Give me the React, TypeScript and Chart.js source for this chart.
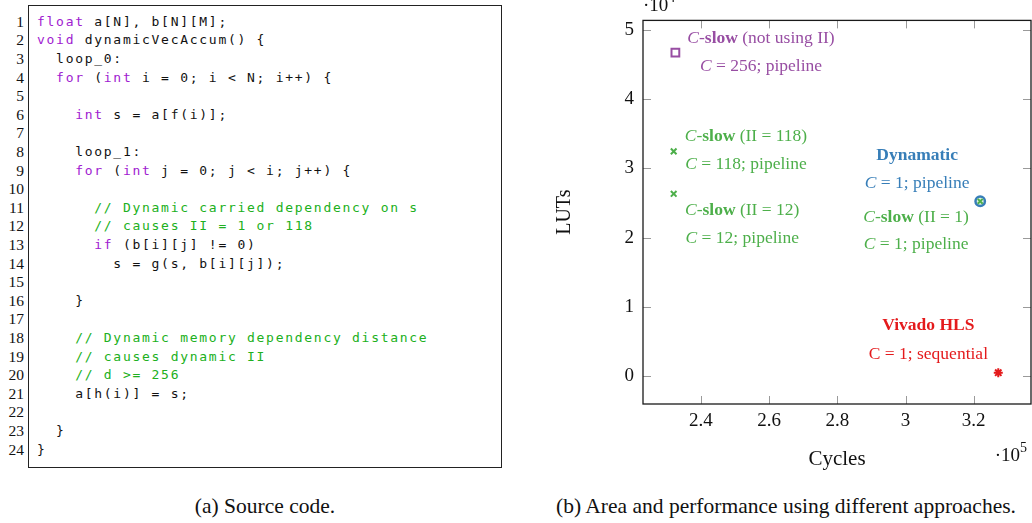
import React, { useEffect, useRef } from "react";
import { Chart, registerables } from "chart.js";

Chart.register(...registerables);

// ---------- Data ----------
const seriesNames = [
  "C-slow (not using II)",
  "C-slow (II = 118)",
  "C-slow (II = 12)",
  "C-slow (II = 1)",
  "Dynamatic",
  "Vivado HLS",
];
const cycles = [232500, 232000, 232000, 321900, 321900, 327200];
const luts = [46760, 32470, 26330, 25240, 25240, 430];

const xTickValues = [240000, 260000, 280000, 300000, 320000];
const xTickLabels = ["2.4", "2.6", "2.8", "3", "3.2"];
const yTickValues = [0, 10000, 20000, 30000, 40000, 50000];
const yTickLabels = ["0", "1", "2", "3", "4", "5"];

const codeLines = [
  "float a[N], b[N][M];",
  "void dynamicVecAccum() {",
  "  loop_0:",
  "  for (int i = 0; i < N; i++) {",
  "",
  "    int s = a[f(i)];",
  "",
  "    loop_1:",
  "    for (int j = 0; j < i; j++) {",
  "",
  "      // Dynamic carried dependency on s",
  "      // causes II = 1 or 118",
  "      if (b[i][j] != 0)",
  "        s = g(s, b[i][j]);",
  "",
  "    }",
  "",
  "    // Dynamic memory dependency distance",
  "    // causes dynamic II",
  "    // d >= 256",
  "    a[h(i)] = s;",
  "",
  "  }",
  "}",
];

const SET1 = {
  red: "#e41a1c",
  blue: "#377eb8",
  green: "#4daf4a",
  purple: "#984ea3",
};

type Seg = { t: string; s?: "i" | "b" };
type Note = { x: number; y: number; color: string; segs: Seg[] };

const notes: Note[] = [
  { x: 257600, y: 48860, color: SET1.purple, segs: [{ t: "C", s: "i" }, { t: "-" }, { t: "slow", s: "b" }, { t: " (not using II)" }] },
  { x: 257600, y: 44710, color: SET1.purple, segs: [{ t: "C", s: "i" }, { t: " = 256; pipeline" }] },
  { x: 253200, y: 34570, color: SET1.green, segs: [{ t: "C", s: "i" }, { t: "-" }, { t: "slow", s: "b" }, { t: " (II = 118)" }] },
  { x: 253200, y: 30570, color: SET1.green, segs: [{ t: "C", s: "i" }, { t: " = 118; pipeline" }] },
  { x: 252100, y: 23860, color: SET1.green, segs: [{ t: "C", s: "i" }, { t: "-" }, { t: "slow", s: "b" }, { t: " (II = 12)" }] },
  { x: 252100, y: 19860, color: SET1.green, segs: [{ t: "C", s: "i" }, { t: " = 12; pipeline" }] },
  { x: 303400, y: 31860, color: SET1.blue, segs: [{ t: "Dynamatic", s: "b" }] },
  { x: 303400, y: 27860, color: SET1.blue, segs: [{ t: "C", s: "i" }, { t: " = 1; pipeline" }] },
  { x: 303100, y: 22860, color: SET1.green, segs: [{ t: "C", s: "i" }, { t: "-" }, { t: "slow", s: "b" }, { t: " (II = 1)" }] },
  { x: 303100, y: 19000, color: SET1.green, segs: [{ t: "C", s: "i" }, { t: " = 1; pipeline" }] },
  { x: 306700, y: 7290, color: SET1.red, segs: [{ t: "Vivado HLS", s: "b" }] },
  { x: 306700, y: 3140, color: SET1.red, segs: [{ t: "C = 1; sequential" }] },
];

const SERIF = '"Liberation Serif", "DejaVu Serif", serif';
const MONO = '"DejaVu Sans Mono", monospace';
const NOTE_SIZE = 17.5;

function segFont(s?: "i" | "b") {
  if (s === "i") return `italic ${NOTE_SIZE}px ${SERIF}`;
  if (s === "b") return `bold ${NOTE_SIZE}px ${SERIF}`;
  return `${NOTE_SIZE}px ${SERIF}`;
}

const framePlugin = {
  id: "frameTicks",
  beforeDatasetsDraw(chart: any) {
    const { ctx, chartArea: a, scales } = chart;
    const L = 8;
    ctx.save();
    ctx.strokeStyle = "#9a9a9a";
    ctx.lineWidth = 1;
    ctx.beginPath();
    xTickValues.forEach((v) => {
      const px = Math.round(scales.x.getPixelForValue(v)) + 0.5;
      ctx.moveTo(px, a.bottom);
      ctx.lineTo(px, a.bottom - L);
      ctx.moveTo(px, a.top);
      ctx.lineTo(px, a.top + L);
    });
    yTickValues.forEach((v) => {
      const py = Math.round(scales.y.getPixelForValue(v)) + 0.5;
      ctx.moveTo(a.left, py);
      ctx.lineTo(a.left + L, py);
      ctx.moveTo(a.right, py);
      ctx.lineTo(a.right - L, py);
    });
    ctx.stroke();
    ctx.strokeStyle = "#1a1a1a";
    ctx.lineWidth = 1.3;
    ctx.strokeRect(a.left, a.top, a.right - a.left, a.bottom - a.top);
    ctx.restore();
  },
  afterDatasetsDraw(chart: any) {
    const { ctx, scales, chartArea: a } = chart;
    ctx.save();
    ctx.textBaseline = "middle";
    ctx.textAlign = "left";
    notes.forEach((n) => {
      const cx = scales.x.getPixelForValue(n.x);
      const cy = scales.y.getPixelForValue(n.y);
      let w = 0;
      n.segs.forEach((s) => {
        ctx.font = segFont(s.s);
        w += ctx.measureText(s.t).width;
      });
      let x = cx - w / 2;
      ctx.fillStyle = n.color;
      n.segs.forEach((s) => {
        ctx.font = segFont(s.s);
        ctx.fillText(s.t, x, cy);
        x += ctx.measureText(s.t).width;
      });
    });
    // exponent labels
    ctx.fillStyle = "#111";
    ctx.textBaseline = "alphabetic";
    ctx.font = `19px ${SERIF}`;
    const dot = "·10";
    const xw = ctx.measureText(dot).width;
    ctx.fillText(dot, a.right - 11 - xw, a.bottom + 57);
    ctx.font = `14px ${SERIF}`;
    ctx.fillText("5", a.right - 11, a.bottom + 48);
    ctx.font = `19px ${SERIF}`;
    ctx.fillText(dot, a.left, a.top - 9);
    const yw = ctx.measureText(dot).width;
    ctx.font = `14px ${SERIF}`;
    ctx.fillText("4", a.left + yw, a.top - 18);
    ctx.restore();
  },
};

function ScatterChart() {
  const ref = useRef<HTMLCanvasElement | null>(null);
  useEffect(() => {
    if (!ref.current) return;
    const pts = (i: number) => [{ x: cycles[i], y: luts[i] }];
    const chart = new Chart(ref.current, {
      type: "scatter",
      data: {
        datasets: [
          {
            label: seriesNames[0],
            data: pts(0),
            pointStyle: "rect",
            pointRadius: 5.5,
            borderColor: SET1.purple,
            backgroundColor: "rgba(255,255,255,0)",
            borderWidth: 2,
          },
          {
            label: seriesNames[1],
            data: pts(1),
            pointStyle: "crossRot",
            pointRadius: 4,
            borderColor: SET1.green,
            borderWidth: 2,
          },
          {
            label: seriesNames[2],
            data: pts(2),
            pointStyle: "crossRot",
            pointRadius: 4,
            borderColor: SET1.green,
            borderWidth: 2,
          },
          {
            label: seriesNames[3],
            data: pts(3),
            pointStyle: "crossRot",
            pointRadius: 3.5,
            borderColor: SET1.green,
            borderWidth: 2,
          },
          {
            label: seriesNames[4],
            data: pts(4),
            pointStyle: "circle",
            pointRadius: 4.7,
            borderColor: SET1.blue,
            backgroundColor: "rgba(200,230,200,0.6)",
            borderWidth: 2.5,
          },
          {
            label: seriesNames[5],
            data: pts(5),
            pointStyle: "star",
            pointRadius: 4.5,
            borderColor: SET1.red,
            borderWidth: 2,
          },
        ],
      },
      options: {
        responsive: false,
        animation: false,
        events: [],
        layout: { autoPadding: false, padding: { top: 15, right: 1, left: 0, bottom: 0 } },
        plugins: { legend: { display: false }, tooltip: { enabled: false } },
        scales: {
          x: {
            type: "linear",
            min: 223000,
            max: 336800,
            grid: { display: false, drawTicks: false },
            border: { display: false },
            afterBuildTicks: (s: any) => {
              s.ticks = xTickValues.map((v) => ({ value: v }));
            },
            afterFit: (s: any) => {
              s.height = 76;
            },
            ticks: {
              padding: 6,
              color: "#111",
              font: { family: SERIF, size: 19 },
              maxRotation: 0,
              callback: (v: any) => {
                const i = xTickValues.indexOf(Number(v));
                return i >= 0 ? xTickLabels[i] : "";
              },
            },
            title: {
              display: true,
              text: "Cycles",
              color: "#111",
              font: { family: SERIF, size: 21 },
              padding: { top: 0, bottom: 8 },
            },
          },
          y: {
            type: "linear",
            min: -4100,
            max: 51430,
            grid: { display: false, drawTicks: false },
            border: { display: false },
            afterBuildTicks: (s: any) => {
              s.ticks = yTickValues.map((v) => ({ value: v }));
            },
            afterFit: (s: any) => {
              s.width = 103;
            },
            ticks: {
              padding: 9,
              color: "#111",
              font: { family: SERIF, size: 19 },
              callback: (v: any) => {
                const i = yTickValues.indexOf(Number(v));
                return i >= 0 ? yTickLabels[i] : "";
              },
            },
            title: {
              display: true,
              text: "LUTs",
              color: "#111",
              font: { family: SERIF, size: 20 },
              padding: { top: 13, bottom: 0 },
            },
          },
        },
      },
      plugins: [framePlugin],
    } as any);
    return () => chart.destroy();
  }, []);
  return (
    <canvas
      ref={ref}
      width={492}
      height={480}
      style={{ position: "absolute", left: 540, top: 0, width: 492, height: 480 }}
    />
  );
}

const KW = /\b(float|void|for|int|if)\b/g;

function CodeLine({ text }: { text: string }) {
  const ci = text.indexOf("//");
  const code = ci >= 0 ? text.slice(0, ci) : text;
  const comment = ci >= 0 ? text.slice(ci) : "";
  const parts: React.ReactNode[] = [];
  let last = 0;
  let m: RegExpExecArray | null;
  KW.lastIndex = 0;
  let k = 0;
  while ((m = KW.exec(code)) !== null) {
    if (m.index > last) parts.push(<span key={k++}>{code.slice(last, m.index)}</span>);
    parts.push(
      <span key={k++} style={{ color: "#a020d0" }}>
        {m[0]}
      </span>
    );
    last = m.index + m[0].length;
  }
  if (last < code.length) parts.push(<span key={k++}>{code.slice(last)}</span>);
  if (comment) parts.push(<span key={k++} style={{ color: "#20b020" }}>{comment}</span>);
  return <>{parts}</>;
}

export default function App() {
  const PITCH = 18.6;
  return (
    <div
      style={{
        position: "absolute",
        left: 0,
        top: 0,
        width: 1032,
        height: 523,
        overflow: "hidden",
        background: "#fff",
      }}
    >
      <div
        style={{
          position: "absolute",
          left: 28,
          top: 5,
          width: 474,
          height: 463,
          border: "1.3px solid #222",
          boxSizing: "border-box",
        }}
      />
      {codeLines.map((line, i) => (
        <React.Fragment key={i}>
          <div
            style={{
              position: "absolute",
              left: 0,
              width: 24,
              top: 12.7 + i * PITCH,
              height: PITCH,
              lineHeight: `${PITCH}px`,
              textAlign: "right",
              fontFamily: SERIF,
              fontSize: 15.5,
              color: "#111",
            }}
          >
            {i + 1}
          </div>
          <div
            style={{
              position: "absolute",
              left: 37,
              top: 12.7 + i * PITCH,
              height: PITCH,
              lineHeight: `${PITCH}px`,
              fontFamily: MONO,
              fontSize: 13,
              letterSpacing: "1.72px",
              whiteSpace: "pre",
              color: "#111",
            }}
          >
            <CodeLine text={line} />
          </div>
        </React.Fragment>
      ))}
      <div
        style={{
          position: "absolute",
          left: 0,
          width: 530,
          top: 494,
          textAlign: "center",
          fontFamily: SERIF,
          fontSize: 21.5,
          color: "#111",
        }}
      >
        (a) Source code.
      </div>
      <ScatterChart />
      <div
        style={{
          position: "absolute",
          left: 540,
          width: 492,
          top: 494,
          textAlign: "center",
          fontFamily: SERIF,
          fontSize: 21.5,
          color: "#111",
          whiteSpace: "nowrap",
        }}
      >
        (b) Area and performance using different approaches.
      </div>
    </div>
  );
}
